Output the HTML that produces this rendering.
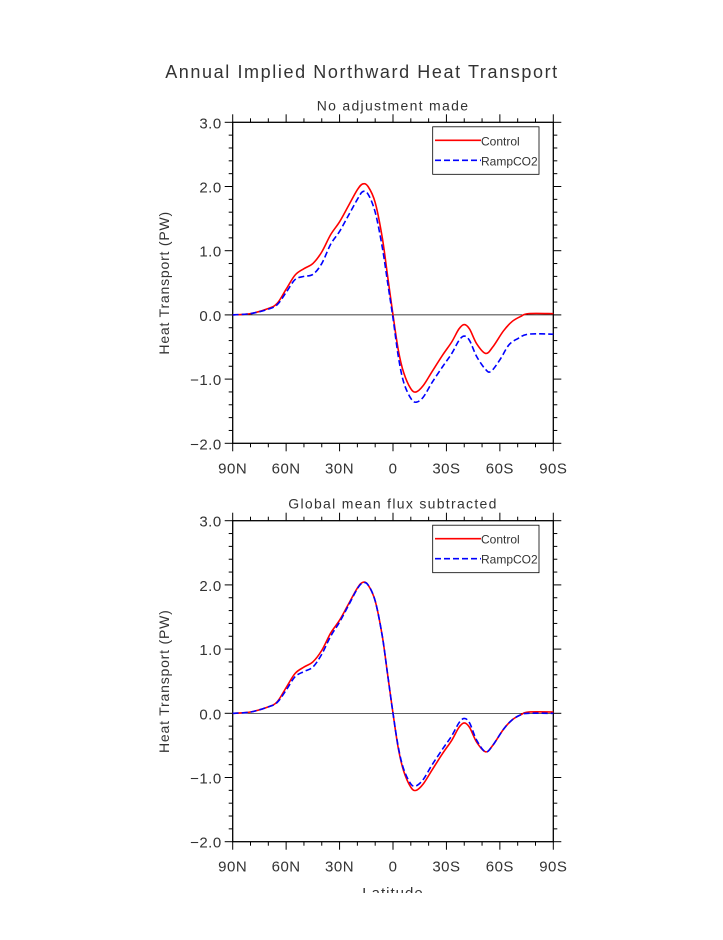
<!DOCTYPE html>
<html><head><meta charset="utf-8"><style>
body{margin:0;background:#fff}
svg text{font-family:"Liberation Sans",sans-serif;fill:#333}
</style></head><body>
<svg id="s" width="723" height="935" xmlns="http://www.w3.org/2000/svg">
<text x="362" y="78" font-size="18" text-anchor="middle" letter-spacing="1.6">Annual Implied Northward Heat Transport</text>
<defs><clipPath id="cut"><rect x="0" y="0" width="723" height="893"/></clipPath></defs>
<g id="g"></g>
</svg>
<script>
var g=document.getElementById('g'),NS='http://www.w3.org/2000/svg';
function el(t,a,txt,p){var e=document.createElementNS(NS,t);for(var k in a)e.setAttribute(k,a[k]);if(txt)e.textContent=txt;(p||g).appendChild(e);return e;}
var x0=232.7,x1=553.3;
function X(l){return x0+(90-l)/180*(x1-x0);}
function path(pts,Y){var p=pts.map(function(q){return [X(q[0]),Y(q[1])]});var d='M'+p[0][0]+','+p[0][1];
for(var i=0;i<p.length-1;i++){var a=p[Math.max(0,i-1)],b=p[i],c=p[i+1],e=p[Math.min(p.length-1,i+2)];
d+=' C'+(b[0]+(c[0]-a[0])/6)+','+(b[1]+(c[1]-a[1])/6)+' '+(c[0]-(e[0]-b[0])/6)+','+(c[1]-(e[1]-b[1])/6)+' '+c[0]+','+c[1];}return d;}
var ctl=[[90,0],[80,0.02],[70,0.1],[65,0.18],[60,0.4],[55,0.62],[50,0.72],[45,0.8],[40,0.98],[35,1.25],[30,1.45],[25,1.7],[20,1.95],[17,2.04],[14,2.0],[10,1.75],[6,1.2],[3,0.6],[0,0],[-3,-0.55],[-6,-0.9],[-10,-1.15],[-13,-1.2],[-17,-1.1],[-22,-0.88],[-28,-0.62],[-33,-0.42],[-37,-0.22],[-40,-0.15],[-43,-0.22],[-47,-0.45],[-52,-0.6],[-56,-0.5],[-62,-0.25],[-67,-0.1],[-72,-0.02],[-76,0.02],[-90,0.02]];
var r1=[[90,0],[80,0.02],[70,0.09],[65,0.16],[60,0.35],[55,0.55],[50,0.6],[45,0.63],[40,0.8],[35,1.1],[30,1.3],[25,1.55],[20,1.8],[17,1.92],[14,1.88],[10,1.6],[6,1.05],[3,0.5],[0,-0.05],[-3,-0.65],[-6,-1.05],[-10,-1.3],[-13,-1.36],[-17,-1.28],[-22,-1.05],[-28,-0.8],[-33,-0.6],[-37,-0.4],[-40,-0.33],[-43,-0.4],[-47,-0.65],[-52,-0.85],[-55,-0.88],[-60,-0.7],[-65,-0.47],[-70,-0.37],[-76,-0.3],[-90,-0.3]];
var r2=[[90,0],[80,0.02],[70,0.1],[65,0.17],[60,0.36],[55,0.57],[50,0.65],[45,0.72],[40,0.92],[35,1.2],[30,1.42],[25,1.68],[20,1.94],[17,2.03],[14,2.0],[10,1.75],[6,1.2],[3,0.6],[0,0],[-3,-0.53],[-6,-0.87],[-10,-1.1],[-13,-1.13],[-17,-1.03],[-22,-0.8],[-28,-0.55],[-33,-0.35],[-37,-0.15],[-40,-0.08],[-43,-0.15],[-47,-0.42],[-52,-0.6],[-56,-0.5],[-62,-0.25],[-67,-0.1],[-72,-0.02],[-76,0.0],[-90,0.0]];
function panel(top,title,ramp){
 var bot=top+321,Y=function(v){return top+(3-v)*64.2;};
 el('text',{x:393,y:top-12,'font-size':14,'text-anchor':'middle','letter-spacing':1.3},title);
 el('rect',{x:x0,y:top,width:x1-x0,height:bot-top,fill:'none',stroke:'#000','stroke-width':1.3});
 for(var l=90;l>=-90;l-=10){var x=X(l),mj=(l%30==0),L=mj?8:4;
  el('line',{x1:x,x2:x,y1:top,y2:top-L,stroke:'#000'});el('line',{x1:x,x2:x,y1:bot,y2:bot+L,stroke:'#000'});
  if(mj)el('text',{x:x,y:bot+30,'font-size':15,'text-anchor':'middle','letter-spacing':0.5},l==0?'0':Math.abs(l)+(l>0?'N':'S'));}
 for(var i=0;i<=25;i++){var v=3-i*0.2,y=Y(v),mj=(i%5==0),L=mj?8:4;
  el('line',{x1:x0,x2:x0-L,y1:y,y2:y,stroke:'#000'});el('line',{x1:x1,x2:x1+L,y1:y,y2:y,stroke:'#000'});
  if(mj){var s=Math.round(v).toFixed(1);if(v<-0.01)s='\u2212'+Math.abs(Math.round(v)).toFixed(1);
   el('text',{x:x0-11,y:y+6,'font-size':15,'text-anchor':'end','letter-spacing':0.5},s);}}
 el('text',{x:0,y:0,'font-size':14,'text-anchor':'middle','letter-spacing':0.8,transform:'translate(169,'+(Y(0.5))+') rotate(-90)'},'Heat Transport (PW)');
 el('line',{x1:x0,x2:x1,y1:Y(0),y2:Y(0),stroke:'#000','stroke-width':0.7});
 el('path',{d:path(ctl,Y),fill:'none',stroke:'#f00','stroke-width':1.6});
 el('path',{d:path(ramp,Y),fill:'none',stroke:'#00f','stroke-width':1.6,'stroke-dasharray':'6,3'});
 el('rect',{x:432.7,y:top+4.5,width:106.3,height:47.5,fill:'#fff',stroke:'#000','stroke-width':0.8});
 el('line',{x1:435,x2:481,y1:top+18,y2:top+18,stroke:'#f00','stroke-width':1.6});
 el('line',{x1:435,x2:481,y1:top+38,y2:top+38,stroke:'#00f','stroke-width':1.6,'stroke-dasharray':'6,3'});
 el('text',{x:481,y:top+23,'font-size':12},'Control');
 el('text',{x:481,y:top+43,'font-size':12},'RampCO2');
}
panel(122.3,'No adjustment made',r1);
panel(520.7,'Global mean flux subtracted',r2);
el('text',{x:393,y:898,'font-size':15,'text-anchor':'middle','letter-spacing':1,'clip-path':'url(#cut)'},'Latitude');
</script>
</body></html>
